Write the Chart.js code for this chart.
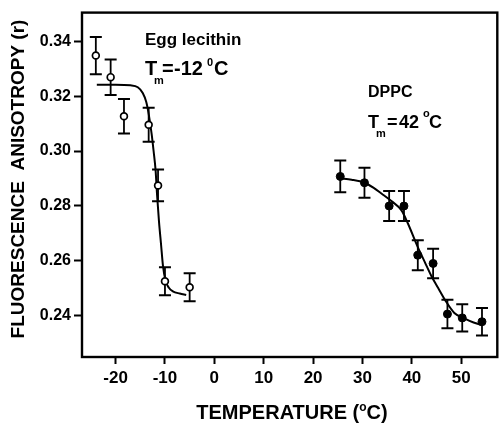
<!DOCTYPE html>
<html>
<head>
<meta charset="utf-8">
<script src="https://cdn.jsdelivr.net/npm/chart.js@4.4.1/dist/chart.umd.min.js"></script>
<style>
  html, body { margin: 0; padding: 0; background: #fff; }
  canvas { display: block; }
</style>
</head>
<body>
<canvas id="c" width="503" height="429"></canvas>
<script>
// Egg lecithin: temperature (°C), anisotropy r, error
const eggTemp = [-24, -21, -18.3, -13.3, -11.4, -10, -5];
const eggR    = [0.3349, 0.3270, 0.3127, 0.3096, 0.2874, 0.2524, 0.2502];
const eggErr  = [0.0068, 0.0065, 0.0063, 0.0062, 0.0058, 0.0051, 0.0051];

// Egg lecithin fitted transition curve
const eggFitT = [-23.8, -20, -17, -15.5, -14.5, -13.8, -13.3, -12.7, -12.3, -11.9, -11.6, -11.2, -10.8, -10.4, -9.9, -9.2, -8.4, -7.0, -5.7];
const eggFitR = [0.3242, 0.3242, 0.3240, 0.3233, 0.3212, 0.3180, 0.3136, 0.3063, 0.3000, 0.2930, 0.2840, 0.2740, 0.2660, 0.2580, 0.2528, 0.2500, 0.2487, 0.2479, 0.2474];

// DPPC: temperature (°C), anisotropy r, error
const dppcTemp = [25.5, 30.4, 35.4, 38.4, 41.2, 44.3, 47.2, 50.2, 54.2];
const dppcR    = [0.2907, 0.2884, 0.2799, 0.2799, 0.2619, 0.2589, 0.2404, 0.2390, 0.2376];
const dppcErr  = [0.0058, 0.0055, 0.0055, 0.0055, 0.0055, 0.0054, 0.0052, 0.0050, 0.0050];

// DPPC fitted transition curve
const dppcFitT = [25.5, 27.8, 30.4, 32.2, 33.9, 36, 37.9, 39.2, 41.2, 42.6, 43.9, 45.3, 46.9, 48.6, 50.6, 52.5, 54.2];
const dppcFitR = [0.2900, 0.2895, 0.2884, 0.2866, 0.2844, 0.2815, 0.2783, 0.2735, 0.2649, 0.2595, 0.2545, 0.2500, 0.2450, 0.2408, 0.2388, 0.2373, 0.2364];

// Axis ticks
const xTicks = [-20, -10, 0, 10, 20, 30, 40, 50];
const yTicks = [0.24, 0.26, 0.28, 0.30, 0.32, 0.34];

const FONT = '"Liberation Sans", Arial, Helvetica, sans-serif';
const pts = (xs, ys) => xs.map((v, i) => ({ x: v, y: ys[i] }));

// vertical error bars with caps, drawn beneath the markers
const errorBars = {
  id: 'errorBars',
  beforeDatasetsDraw(chart) {
    const { ctx, scales: { x, y } } = chart;
    ctx.save();
    ctx.strokeStyle = '#000';
    chart.data.datasets.forEach(ds => {
      if (!ds.errors) return;
      ds.data.forEach((p, i) => {
        const px = x.getPixelForValue(p.x);
        const top = y.getPixelForValue(p.y + ds.errors[i]);
        const bot = y.getPixelForValue(p.y - ds.errors[i]);
        ctx.lineWidth = 1.8;
        ctx.beginPath();
        ctx.moveTo(px, top); ctx.lineTo(px, bot);
        ctx.stroke();
        ctx.lineWidth = 2;
        ctx.beginPath();
        ctx.moveTo(px - 6, top); ctx.lineTo(px + 6, top);
        ctx.moveTo(px - 6, bot); ctx.lineTo(px + 6, bot);
        ctx.stroke();
      });
    });
    ctx.restore();
  }
};

function runs(ctx, list) {
  list.forEach(r => {
    ctx.font = `bold ${r.size}px ${FONT}`;
    ctx.fillText(r.text, r.x, r.y);
  });
}

// frame, axis titles and annotations
const decorations = {
  id: 'decorations',
  afterDraw(chart) {
    const { ctx, chartArea: a } = chart;
    ctx.save();
    ctx.strokeStyle = '#000';
    ctx.lineWidth = 2.4;
    ctx.strokeRect(a.left, a.top, a.right - a.left, a.bottom - a.top);

    ctx.fillStyle = '#000';
    ctx.textBaseline = 'alphabetic';
    ctx.textAlign = 'left';

    // x axis title: TEMPERATURE (°C)
    const big = 20, sup = 12;
    ctx.font = `bold ${big}px ${FONT}`;
    const w1 = ctx.measureText('TEMPERATURE (').width;
    const w3 = ctx.measureText('C)').width;
    ctx.font = `bold ${sup}px ${FONT}`;
    const w2 = ctx.measureText('o').width;
    const cx = 292, base = 419;
    const sx = cx - (w1 + w2 + w3) / 2;
    runs(ctx, [
      { text: 'TEMPERATURE (', size: big, x: sx, y: base },
      { text: 'o', size: sup, x: sx + w1, y: base - 8 },
      { text: 'C)', size: big, x: sx + w1 + w2, y: base }
    ]);

    // y axis title
    ctx.save();
    ctx.translate(24, 179);
    ctx.rotate(-Math.PI / 2);
    ctx.textAlign = 'center';
    ctx.font = `bold 19px ${FONT}`;
    ctx.fillText('FLUORESCENCE  ANISOTROPY (r)', 0, 0);
    ctx.restore();

    // Egg lecithin label
    runs(ctx, [
      { text: 'Egg lecithin', size: 17, x: 145, y: 45 },
      { text: 'T', size: 20, x: 145, y: 75 },
      { text: 'm', size: 11, x: 154, y: 84 },
      { text: '=', size: 20, x: 162, y: 75 },
      { text: '-12', size: 20, x: 174, y: 75 },
      { text: '0', size: 11, x: 207, y: 66 },
      { text: 'C', size: 20, x: 214, y: 75 }
    ]);

    // DPPC label
    runs(ctx, [
      { text: 'DPPC', size: 16, x: 368, y: 97 },
      { text: 'T', size: 18, x: 368, y: 128 },
      { text: 'm', size: 11, x: 376, y: 137 },
      { text: '=', size: 18, x: 387, y: 128 },
      { text: '42', size: 18, x: 399, y: 128 },
      { text: 'o', size: 11, x: 423, y: 117 },
      { text: 'C', size: 18, x: 429, y: 128 }
    ]);
    ctx.restore();
  }
};

new Chart(document.getElementById('c'), {
  type: 'scatter',
  data: {
    datasets: [
      {
        label: 'Egg lecithin',
        data: pts(eggTemp, eggR),
        errors: eggErr,
        pointStyle: 'circle',
        pointRadius: 3.4,
        pointBorderWidth: 1.7,
        pointBorderColor: '#000',
        pointBackgroundColor: '#fff',
        showLine: false
      },
      {
        label: 'DPPC',
        data: pts(dppcTemp, dppcR),
        errors: dppcErr,
        pointStyle: 'circle',
        pointRadius: 4,
        pointBorderWidth: 1,
        pointBorderColor: '#000',
        pointBackgroundColor: '#000',
        showLine: false
      },
      {
        label: 'Egg lecithin fit',
        data: pts(eggFitT, eggFitR),
        showLine: true,
        cubicInterpolationMode: 'monotone',
        borderColor: '#000',
        borderWidth: 2,
        pointRadius: 0
      },
      {
        label: 'DPPC fit',
        data: pts(dppcFitT, dppcFitR),
        showLine: true,
        cubicInterpolationMode: 'monotone',
        borderColor: '#000',
        borderWidth: 2,
        pointRadius: 0
      }
    ]
  },
  options: {
    responsive: false,
    animation: false,
    events: [],
    layout: { padding: { left: 0, right: 3, top: 12, bottom: 0 } },
    plugins: { legend: { display: false }, tooltip: { enabled: false } },
    scales: {
      x: {
        type: 'linear',
        min: -26.8,
        max: 57.3,
        afterFit(s) { s.height = 72; },
        afterBuildTicks(s) { s.ticks = xTicks.map(v => ({ value: v })); },
        border: { display: false },
        grid: { drawOnChartArea: false, drawTicks: true, tickLength: 7, tickWidth: 2, tickColor: '#000' },
        ticks: {
          color: '#000',
          padding: 4,
          maxRotation: 0,
          font: { family: FONT, size: 17, weight: 'bold' },
          callback: v => String(v)
        }
      },
      y: {
        type: 'linear',
        min: 0.2247,
        max: 0.3506,
        afterFit(s) { s.width = 82; },
        afterBuildTicks(s) { s.ticks = yTicks.map(v => ({ value: v })); },
        border: { display: false },
        grid: { drawOnChartArea: false, drawTicks: true, tickLength: 8, tickWidth: 2, tickColor: '#000' },
        ticks: {
          color: '#000',
          padding: 3,
          font: { family: FONT, size: 16, weight: 'bold' },
          callback: v => v.toFixed(2)
        }
      }
    }
  },
  plugins: [errorBars, decorations]
});
</script>
</body>
</html>
